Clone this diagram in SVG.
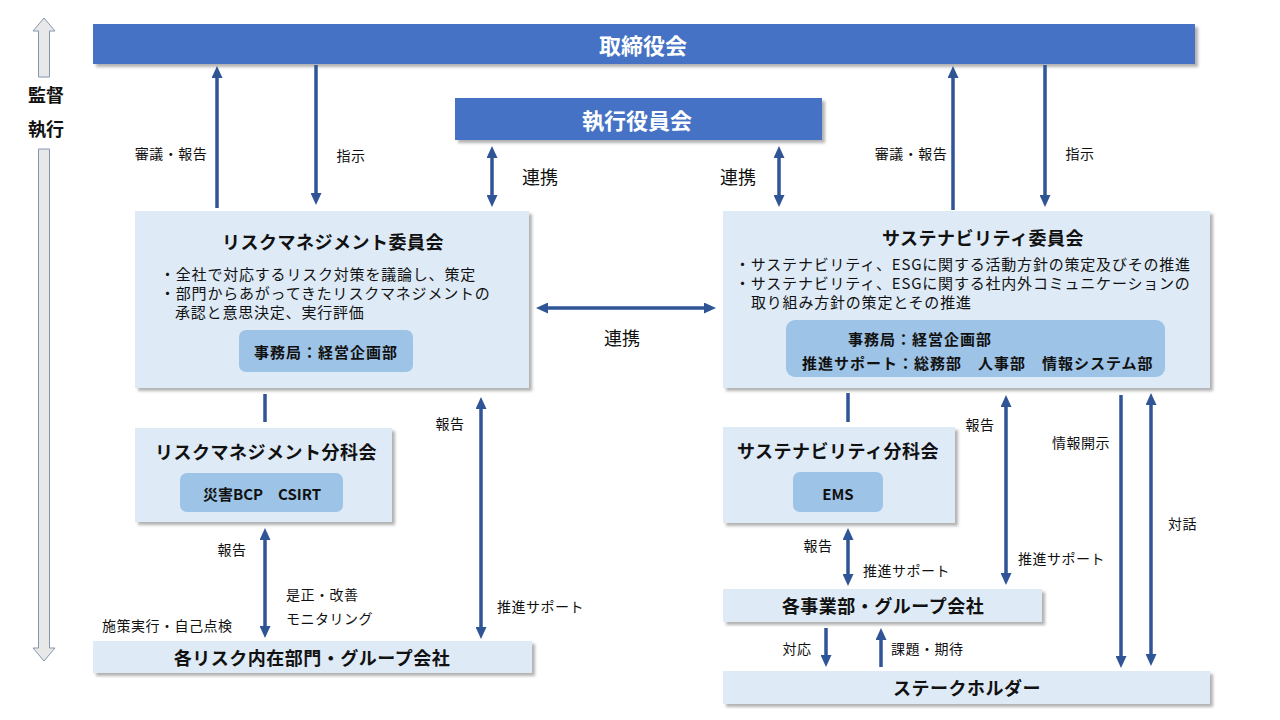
<svg xmlns="http://www.w3.org/2000/svg" width="1280" height="720" viewBox="0 0 1280 720">
<defs>
<filter id="sh" x="-5%" y="-5%" width="110%" height="120%">
<feDropShadow dx="3" dy="3" stdDeviation="1.5" flood-color="#7f7f7f" flood-opacity="0.6"/>
</filter>
<marker id="ah" markerUnits="userSpaceOnUse" markerWidth="12" markerHeight="11" refX="7" refY="5.5" orient="auto-start-reverse">
<path d="M0,0 L12,5.5 L0,11 z" fill="#2F5597"/>
</marker>
<style>
text{font-family:"Noto Sans CJK JP","Noto Sans",sans-serif;fill:#111;dominant-baseline:central}
.hdr{fill:#4472C4;filter:url(#sh)}
.hdrt{fill:#fff;font-size:22px;font-weight:bold;text-anchor:middle}
.box{fill:#DEEAF6;filter:url(#sh)}
.inner{fill:#9DC3E6}
.title{font-size:18px;font-weight:bold;letter-spacing:0.5px;text-anchor:middle}
.bul{font-size:15px;letter-spacing:0.8px}
.in{font-size:15px;font-weight:bold;letter-spacing:1px}
.lbl{font-size:14px;letter-spacing:0.5px}
.lk{font-size:18px}
.ln{stroke:#2F5597;stroke-width:3.5;fill:none}
.a1{marker-end:url(#ah)}
.a2{marker-start:url(#ah);marker-end:url(#ah)}
.side{fill:#E8E8E8;stroke:#8497B0;stroke-width:1}
</style>
</defs>
<rect width="1280" height="720" fill="#fff"/>

<g id="side-axis">
<polygon class="side" points="44,18 55,31 49.5,31 49.5,77 38.5,77 38.5,31 33,31"/>
<polygon class="side" points="38.5,149 49.5,149 49.5,648 55,648 44,661 33,648 38.5,648"/>
<text x="46" y="94" style="font-size:18px;font-weight:bold;text-anchor:middle">監督</text>
<text x="46" y="128" style="font-size:18px;font-weight:bold;text-anchor:middle">執行</text>
</g>

<g id="board">
<rect class="hdr" x="93" y="24" width="1102" height="40"/>
<text class="hdrt" x="643" y="44">取締役会</text>
</g>

<g id="exec">
<rect class="hdr" x="455" y="98" width="367" height="42"/>
<text class="hdrt" x="637" y="119">執行役員会</text>
</g>

<g id="risk-committee">
<rect class="box" x="135" y="211" width="394" height="177"/>
<text class="title" x="333" y="241">リスクマネジメント委員会</text>
<text class="bul" x="160" y="273">・全社で対応するリスク対策を議論し、策定</text>
<text class="bul" x="160" y="292">・部門からあがってきたリスクマネジメントの</text>
<text class="bul" x="175" y="311">承認と意思決定、実行評価</text>
<rect class="inner" x="239" y="330" width="174" height="42" rx="7"/>
<text class="in" x="326" y="351" text-anchor="middle">事務局：経営企画部</text>
</g>

<g id="sust-committee">
<rect class="box" x="723" y="211" width="487" height="177"/>
<text class="title" x="983" y="237">サステナビリティ委員会</text>
<text class="bul" x="735" y="263">・サステナビリティ、ESGに関する活動方針の策定及びその推進</text>
<text class="bul" x="735" y="282">・サステナビリティ、ESGに関する社内外コミュニケーションの</text>
<text class="bul" x="751" y="301">取り組み方針の策定とその推進</text>
<rect class="inner" x="786" y="320" width="379" height="57" rx="9"/>
<text class="in" x="848" y="338">事務局：経営企画部</text>
<text class="in" x="802" y="362">推進サポート：総務部　人事部　情報システム部</text>
</g>

<g id="risk-sub">
<rect class="box" x="135" y="428" width="257" height="94"/>
<text class="title" x="266" y="451">リスクマネジメント分科会</text>
<rect class="inner" x="180" y="473" width="163" height="39" rx="7"/>
<text class="in" x="262" y="493" text-anchor="middle" style="letter-spacing:0">災害BCP　CSIRT</text>
</g>

<g id="sust-sub">
<rect class="box" x="723" y="427" width="232" height="96"/>
<text class="title" x="838" y="450">サステナビリティ分科会</text>
<rect class="inner" x="793" y="472" width="90" height="40" rx="7"/>
<text class="in" x="838" y="493" text-anchor="middle" style="letter-spacing:0">EMS</text>
</g>

<g id="risk-depts">
<rect class="box" x="93" y="641" width="439" height="32"/>
<text class="title" x="312" y="657">各リスク内在部門・グループ会社</text>
</g>

<g id="business-units">
<rect class="box" x="723" y="589" width="319" height="33"/>
<text class="title" x="883" y="605">各事業部・グループ会社</text>
</g>

<g id="stakeholders">
<rect class="box" x="723" y="671" width="487" height="33"/>
<text class="title" x="967" y="687">ステークホルダー</text>
</g>

<g id="connectors">
<line class="ln a1" x1="217" y1="208" x2="217" y2="71"/>
<line class="ln a1" x1="316" y1="65" x2="316" y2="200"/>
<line class="ln a2" x1="492" y1="151" x2="492" y2="202"/>
<line class="ln a2" x1="779" y1="151" x2="779" y2="202"/>
<line class="ln a1" x1="953" y1="210" x2="953" y2="71"/>
<line class="ln a1" x1="1045" y1="65" x2="1045" y2="202"/>
<line class="ln a2" x1="541" y1="308" x2="711" y2="308"/>
<line class="ln" x1="265" y1="394" x2="265" y2="422"/>
<line class="ln a2" x1="265" y1="533" x2="265" y2="633"/>
<line class="ln a2" x1="481" y1="402" x2="481" y2="634"/>
<line class="ln" x1="848" y1="393" x2="848" y2="422"/>
<line class="ln a2" x1="848" y1="533" x2="848" y2="581"/>
<line class="ln a2" x1="1006" y1="400" x2="1006" y2="580"/>
<line class="ln a1" x1="1121" y1="395" x2="1121" y2="663"/>
<line class="ln a2" x1="1151" y1="398" x2="1151" y2="661"/>
<line class="ln a1" x1="826" y1="628" x2="826" y2="662"/>
<line class="ln a1" x1="881" y1="667" x2="881" y2="633"/>
</g>

<g id="labels">
<text class="lbl" x="171" y="153" text-anchor="middle">審議・報告</text>
<text class="lbl" x="351" y="155" text-anchor="middle">指示</text>
<text class="lk" x="540" y="176" text-anchor="middle">連携</text>
<text class="lk" x="738" y="176" text-anchor="middle">連携</text>
<text class="lbl" x="911" y="153" text-anchor="middle">審議・報告</text>
<text class="lbl" x="1080" y="153" text-anchor="middle">指示</text>
<text class="lk" x="622" y="337" text-anchor="middle">連携</text>
<text class="lbl" x="450" y="423" text-anchor="middle">報告</text>
<text class="lbl" x="497" y="606">推進サポート</text>
<text class="lbl" x="232" y="549" text-anchor="middle">報告</text>
<text class="lbl" x="286" y="594">是正・改善</text>
<text class="lbl" x="286" y="618">モニタリング</text>
<text class="lbl" x="102" y="625">施策実行・自己点検</text>
<text class="lbl" x="980" y="424" text-anchor="middle">報告</text>
<text class="lbl" x="1018" y="558">推進サポート</text>
<text class="lbl" x="1052" y="442">情報開示</text>
<text class="lbl" x="1168" y="523">対話</text>
<text class="lbl" x="818" y="545" text-anchor="middle">報告</text>
<text class="lbl" x="863" y="570">推進サポート</text>
<text class="lbl" x="797" y="648" text-anchor="middle">対応</text>
<text class="lbl" x="891" y="648">課題・期待</text>
</g>
</svg>
